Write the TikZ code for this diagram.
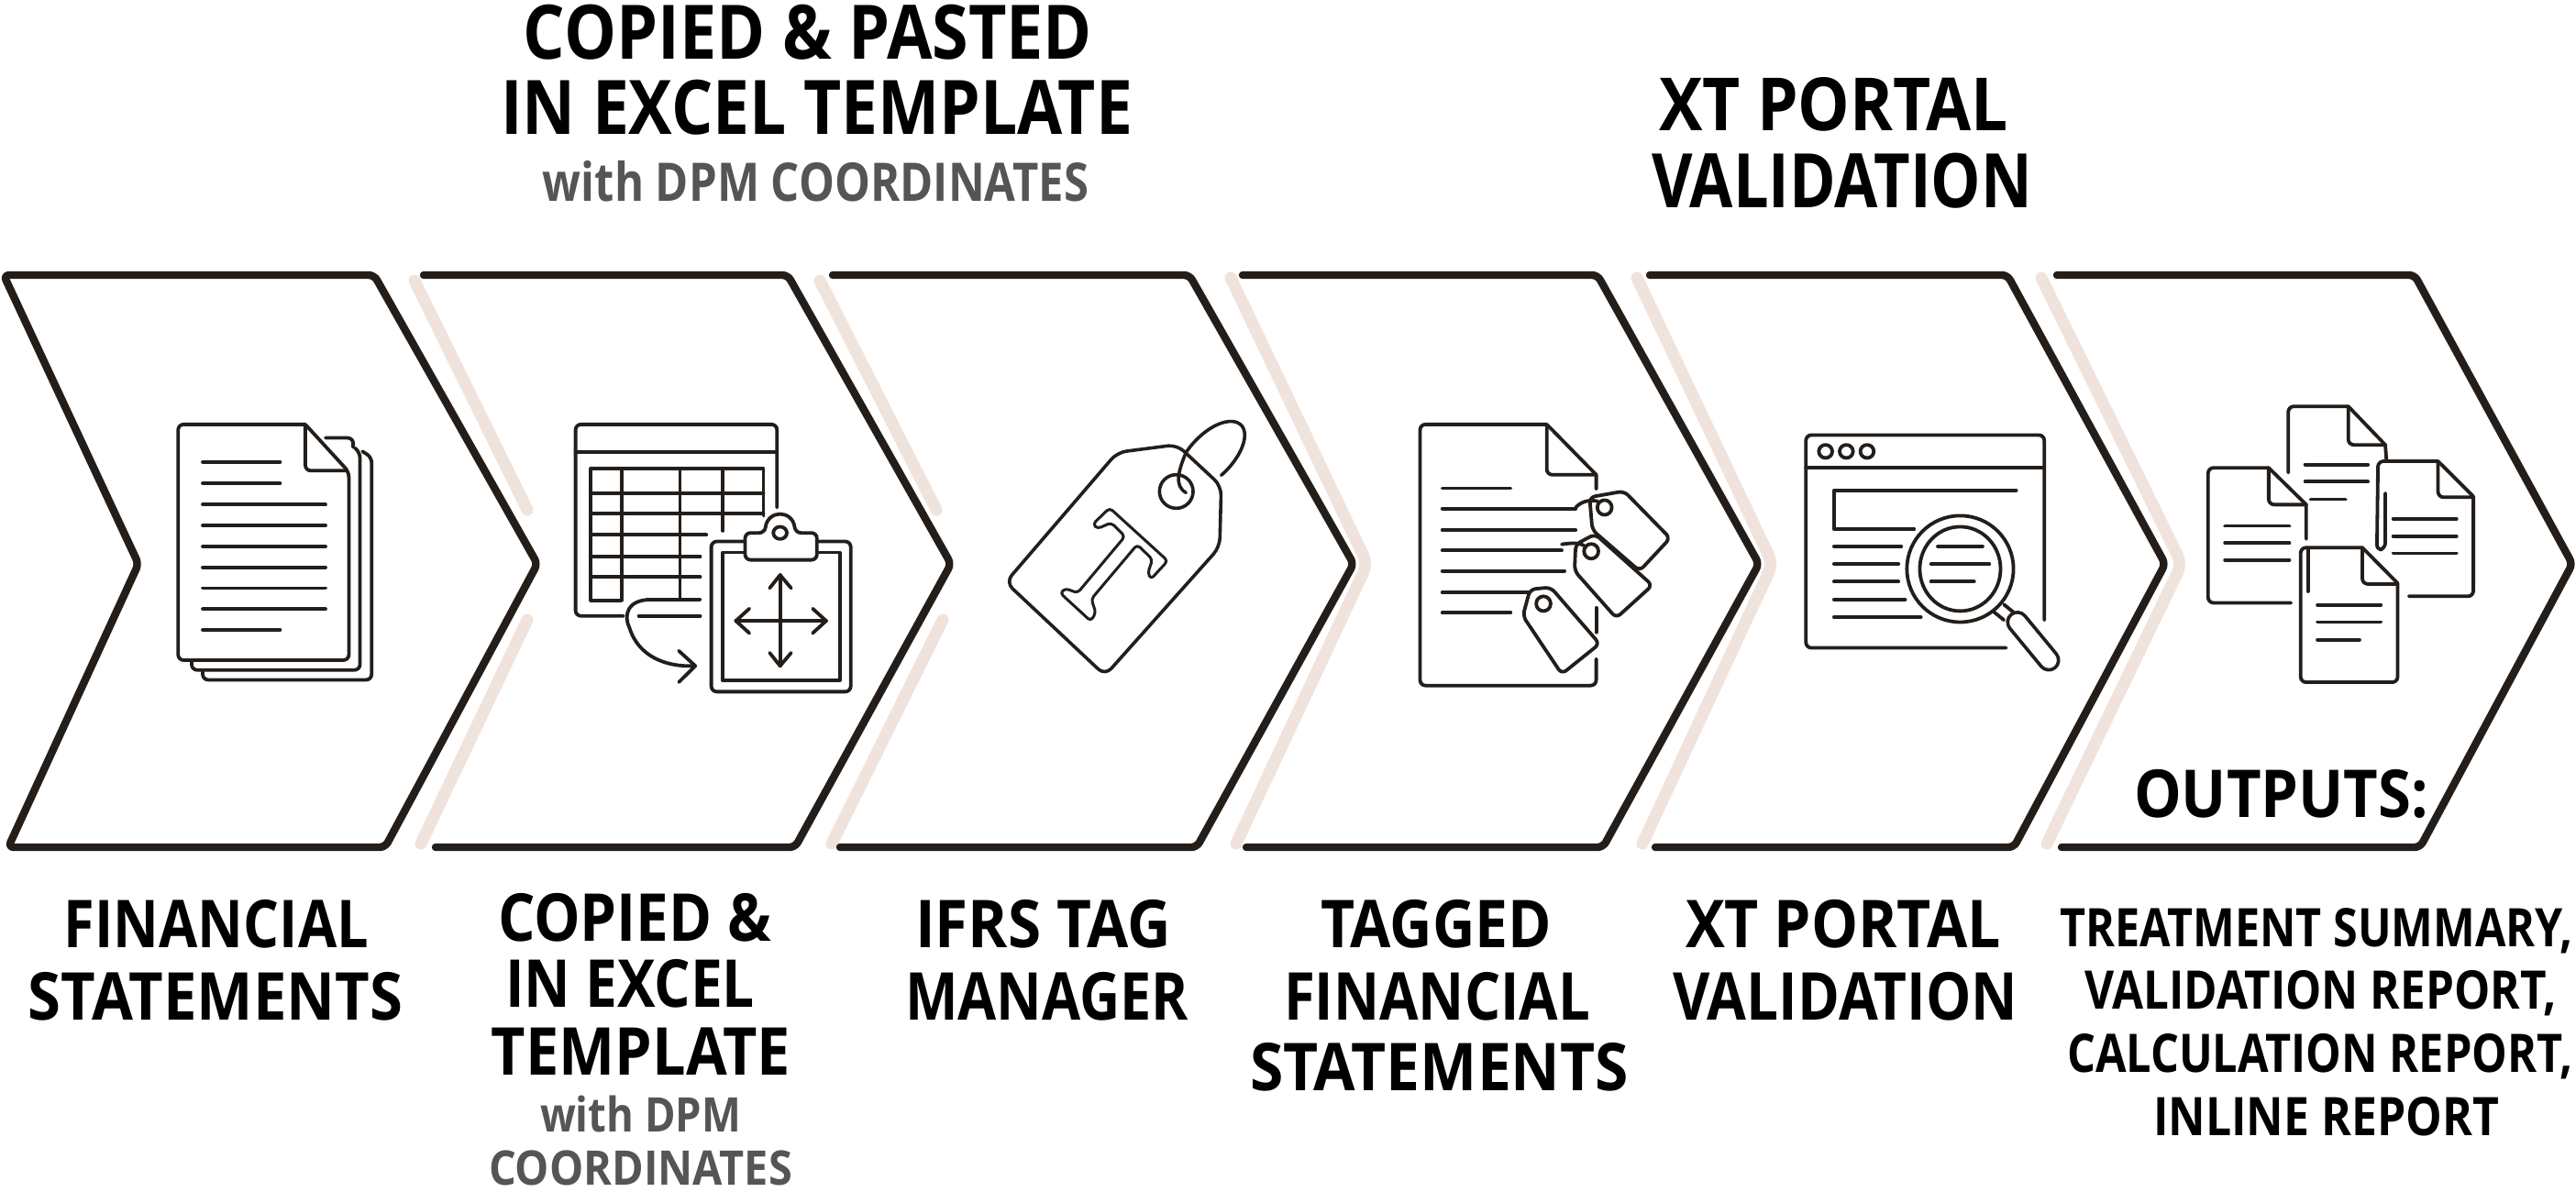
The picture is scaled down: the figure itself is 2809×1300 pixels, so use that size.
\documentclass[tikz,border=0pt]{standalone}
\usepackage{graphicx}
\usepackage{fontspec}
\setmainfont{Open Sans}
\definecolor{ink}{HTML}{231E1A}
\definecolor{blush}{HTML}{F0E3DC}
\definecolor{greytext}{HTML}{555555}
\newcommand\lbl[7][black]{\node[lbltext,text=#1] (#2) at ({(#3+#4)/2},#5) {\resizebox{\dimexpr(#4pt-#3pt)/2\relax}{\height}{\fontsize{#6}{#6}\selectfont\bfseries #7}};}
\tikzset{
  lbltext/.style={anchor=base,inner sep=0pt,outer sep=0pt},
  chev/.style={draw=ink,line width=4.2pt,line cap=round,line join=round,rounded corners=3pt},
  halo/.style={draw=blush,line width=6.5pt,line cap=round,line join=round,rounded corners=5pt},
  icon/.style={draw=ink,line width=1.9pt,line cap=round,line join=round,rounded corners=3pt},
  sharp/.style={draw=ink,line width=1.9pt,line cap=round,line join=round},
  zoneA/.style={shift={(0,270)},x=0.3349pt,y=-0.2232pt},
  zoneB/.style={shift={(1000,270)},x=0.30303pt,y=-0.2232pt},
  zoneC/.style={shift={(1850,270)},x=0.3058pt,y=-0.2232pt},
  zoneT/.style={shift={(1080,450)},x=0.16667pt,y=-0.16667pt},
}
\begin{document}
\begin{tikzpicture}[x=0.5pt,y=-0.5pt]
\useasboundingbox (0,0) rectangle (2809,1300);
\fill[white] (0,0) rectangle (2809,1300);
% blush edges
\draw[halo] (452,306) -- (575,556);
\draw[halo] (575,676) -- (459,920);
\draw[halo] (894,306) -- (1021,556);
\draw[halo] (1028,676) -- (907,920);
\draw[halo] (1342,303) -- (1491,615) -- (1348,920);
\draw[halo] (1785,303) -- (1933,615) -- (1791,920);
\draw[halo] (2226,303) -- (2379,615) -- (2232,920);
% chevrons
\draw[chev] (4,300) -- (408,300) -- (586,615) -- (420,924) -- (9,924) -- (151,615) -- cycle;
\draw[chev] (462,300) -- (859,300) -- (1037,615) -- (867,924) -- (475,924);
\draw[chev] (908,300) -- (1297,300) -- (1476,615) -- (1305,924) -- (916,924);
\draw[chev] (1355,300) -- (1742,300) -- (1918,615) -- (1748,924) -- (1359,924);
\draw[chev] (1799,300) -- (2189,300) -- (2361,615) -- (2196,924) -- (1805,924);
\draw[chev] (2243,300) -- (2633,300) -- (2805,615) -- (2639,924) -- (2248,924);
% icon 1: stacked document
\begin{scope}[zoneA]
\draw[icon] (530,465) -- (575,465) -- (575,488);
\draw[icon] (578,490) -- (586,500) -- (586,1032) -- (312,1032) -- (312,1010);
\draw[icon] (590,498) -- (605,512) -- (605,1056) -- (330,1056) -- (330,1034);
\draw[icon,fill=white] (497,432) -- (290,432) -- (290,1008) -- (568,1008) -- (568,548) -- (497,432);
\draw[icon] (497,432) -- (497,545) -- (565,545);
\foreach \yy/\xb in {524/456,576/456,628/530,679/530,730/530,781/530,832/530,883/530,934/456}
  \draw[sharp] (330,\yy) -- (\xb,\yy);
\end{scope}
% icon 2: table and clipboard
\begin{scope}[zoneA]
\draw[icon] (1265,635) -- (1265,432) -- (937,432) -- (937,900) -- (1015,900);
\draw[sharp] (1040,900) -- (1140,900);
\draw[sharp] (937,500) -- (1265,500);
\draw[sharp] (1243,655) -- (1243,540) -- (962,540) -- (962,862) -- (1010,862);
\draw[sharp] (1012,540) -- (1012,862);
\draw[sharp] (1107,540) -- (1107,860);
\draw[sharp] (1177,540) -- (1177,692);
\draw[sharp] (962,600) -- (1243,600);
\draw[sharp] (962,650) -- (1243,650);
\draw[sharp] (962,702) -- (1150,702);
\draw[sharp] (962,755) -- (1140,755);
\draw[sharp] (962,805) -- (1140,805);
\draw[sharp] (1140,860) -- (1060,860) .. controls (1020,860) and (1015,900) .. (1025,930) .. controls (1040,1000) and (1085,1025) .. (1130,1022);
\draw[sharp] (1105,985) -- (1132,1022) -- (1105,1062);
\draw[icon] (1158,730) -- (1158,1085) -- (1385,1085) -- (1385,718) -- (1158,718) -- (1158,730);
\draw[sharp] (1177,1058) rectangle (1367,745);
\draw[icon,fill=white] (1213,763) -- (1213,697) -- (1245,697) .. controls (1250,640) and (1290,640) .. (1295,697) -- (1330,697) -- (1330,763) -- cycle;
\draw[sharp] (1270,697) ellipse [x radius=11,y radius=15];
\draw[sharp] (1270,800) -- (1270,1022);
\draw[sharp] (1198,912) -- (1345,912);
\draw[sharp] (1253,832) -- (1270,800) -- (1288,832);
\draw[sharp] (1253,990) -- (1270,1022) -- (1288,990);
\draw[sharp] (1220,882) -- (1198,912) -- (1220,942);
\draw[sharp] (1323,882) -- (1345,912) -- (1323,942);
\end{scope}
% icon 3: tag
\begin{scope}[zoneT]
\draw[icon,line width=1.8pt,rounded corners=5pt] (415,130) -- (610,105) -- (755,240) -- (750,440) -- (375,860) -- (50,555) -- cycle;
\draw[sharp,line width=1.8pt] (608,258) circle (55);
\draw[sharp,line width=1.8pt] (640,262) .. controls (600,240) and (615,190) .. (640,130) .. controls (680,70) and (750,20) .. (800,30) .. controls (860,45) and (830,140) .. (755,205);
\draw[icon,line width=1.5pt,rounded corners=2pt] (390,312) -- (580,485) -- (525,545) -- (515,525) -- (530,480) -- (480,432) -- (330,610) -- (345,655) -- (328,682) -- (228,590) -- (245,575) -- (285,590) -- (440,405) -- (395,360) -- (350,380) -- (335,365) -- cycle;
\end{scope}
% icon 4: tagged document
\begin{scope}[zoneB]
\draw[icon] (1133,432) -- (905,432) -- (905,1070) -- (1222,1070) -- (1222,1005);
\draw[sharp] (1133,432) -- (1222,555) -- (1222,590);
\draw[sharp] (1222,880) -- (1222,940);
\draw[icon] (1133,432) -- (1133,555) -- (1220,555);
\foreach \yy/\xb in {588/1068,638/1185,690/1185,740/1160,790/1165,842/1100,892/1068}
  \draw[sharp] (945,\yy) -- (\xb,\yy);
\draw[icon,fill=white] (1215,690) -- (1210,610) -- (1272,595) -- (1355,710) -- (1300,790) -- cycle;
\draw[sharp] (1237,635) ellipse [x radius=13,y radius=18];
\draw[sharp] (1185,635) .. controls (1195,620) and (1210,615) .. (1225,620);
\draw[icon,fill=white] (1183,790) -- (1185,725) -- (1220,700) -- (1323,825) -- (1258,905) -- cycle;
\draw[sharp] (1213,742) ellipse [x radius=13,y radius=18];
\draw[sharp] (1160,725) .. controls (1175,722) and (1190,720) .. (1200,728);
\draw[icon,fill=white] (1090,900) -- (1103,835) -- (1140,830) -- (1228,968) -- (1160,1042) -- cycle;
\draw[sharp] (1127,870) ellipse [x radius=13,y radius=18];
\end{scope}
% icon 5: browser and magnifier
\begin{scope}[zoneC]
\draw[icon] (620,910) -- (620,458) -- (195,458) -- (195,978) -- (552,978);
\draw[sharp] (195,537) -- (620,537);
\foreach \xx in {230,267,304}
  \draw[sharp] (\xx,498) ellipse [x radius=12,y radius=16];
\draw[sharp] (570,593) -- (245,593) -- (245,688) -- (388,688);
\foreach \yy/\xb in {730/365,773/360,816/360,860/372,903/400}
  \draw[sharp] (245,\yy) -- (\xb,\yy);
\draw[sharp] (470,785) ellipse [x radius=95,y radius=130];
\draw[sharp] (470,785) ellipse [x radius=72,y radius=103];
\foreach \yy/\xa/\xb in {730/430/510,773/418/522,816/418/495}
  \draw[sharp] (\xa,\yy) -- (\xb,\yy);
\draw[draw=ink,line width=12.5pt,line cap=round] (572,915) -- (628,1008);
\draw[draw=white,line width=8.7pt,line cap=round] (572,915) -- (628,1008);
\draw[sharp] (530,890) -- (548,910);
\draw[sharp] (548,872) -- (566,892);
\end{scope}
% icon 6: four documents
\begin{scope}[zoneC]
\draw[icon] (1055,550) -- (1055,388) -- (1162,388);
\draw[sharp] (1162,388) -- (1228,482) -- (1230,520);
\draw[icon] (1162,388) -- (1162,482) -- (1228,482);
\draw[sharp] (1085,530) -- (1197,530);
\draw[sharp] (1085,572) -- (1197,572);
\draw[sharp] (1095,615) -- (1157,615);
\draw[icon] (1322,522) -- (1215,522) -- (1213,740) -- (1228,735) -- (1228,600);
\draw[sharp] (1322,522) -- (1385,608);
\draw[icon] (1385,608) -- (1385,852) -- (1270,852);
\draw[icon] (1322,522) -- (1322,610) -- (1385,610);
\foreach \yy in {663,705,747}
  \draw[sharp] (1242,\yy) -- (1355,\yy);
\draw[icon] (1020,538) -- (912,538) -- (912,868) -- (1060,868);
\draw[sharp] (1020,538) -- (1087,628) -- (1087,712);
\draw[icon] (1020,538) -- (1020,628) -- (1087,628);
\foreach \yy in {680,722,763}
  \draw[sharp] (942,\yy) -- (1057,\yy);
\draw[icon] (1187,733) -- (1077,733) -- (1077,1062) -- (1250,1062) -- (1250,820);
\draw[sharp] (1187,733) -- (1250,820);
\draw[icon] (1187,733) -- (1187,822) -- (1250,822);
\draw[sharp] (1090,735) -- (1090,840);
\foreach \yy/\xb in {873/1220,915/1220,958/1182}
  \draw[sharp] (1107,\yy) -- (\xb,\yy);
\end{scope}
% labels
\lbl{topA}{571}{1191}{65}{41}{COPIED \& PASTED}
\lbl{topB}{546}{1235}{147}{41}{IN EXCEL TEMPLATE}
\lbl[greytext]{topC}{592}{1187}{220}{29}{with DPM COORDINATES}
\lbl{topD}{1809}{2190}{143}{40}{XT PORTAL}
\lbl{topE}{1801}{2216}{227}{41}{VALIDATION}
\lbl{outs}{2327}{2648}{891}{36}{OUTPUTS:}
\lbl{fsA}{70}{402}{1033}{36}{FINANCIAL}
\lbl{fsB}{31}{439}{1112}{36}{STATEMENTS}
\lbl{cpA}{543}{841}{1026}{36}{COPIED \&}
\lbl{cpB}{551}{823}{1098}{36}{IN EXCEL}
\lbl{cpC}{536}{862}{1172}{36}{TEMPLATE}
\lbl[greytext]{cpD}{589}{808}{1234}{26}{with DPM}
\lbl[greytext]{cpE}{533}{864}{1292}{26}{COORDINATES}
\lbl{tmA}{998}{1277}{1033}{36}{IFRS TAG}
\lbl{tmB}{987}{1296}{1112}{36}{MANAGER}
\lbl{tgA}{1440}{1692}{1033}{36}{TAGGED}
\lbl{tgB}{1400}{1734}{1112}{36}{FINANCIAL}
\lbl{tgC}{1363}{1776}{1189}{36}{STATEMENTS}
\lbl{xtA}{1838}{2182}{1033}{36}{XT PORTAL}
\lbl{xtB}{1824}{2200}{1112}{36}{VALIDATION}
\lbl{otA}{2246}{2806}{1032}{29}{TREATMENT SUMMARY,}
\lbl{otB}{2273}{2788}{1100}{29}{VALIDATION REPORT,}
\lbl{otC}{2254}{2806}{1169}{29}{CALCULATION REPORT,}
\lbl{otD}{2348}{2725}{1238}{29}{INLINE REPORT}
\end{tikzpicture}
\end{document}
